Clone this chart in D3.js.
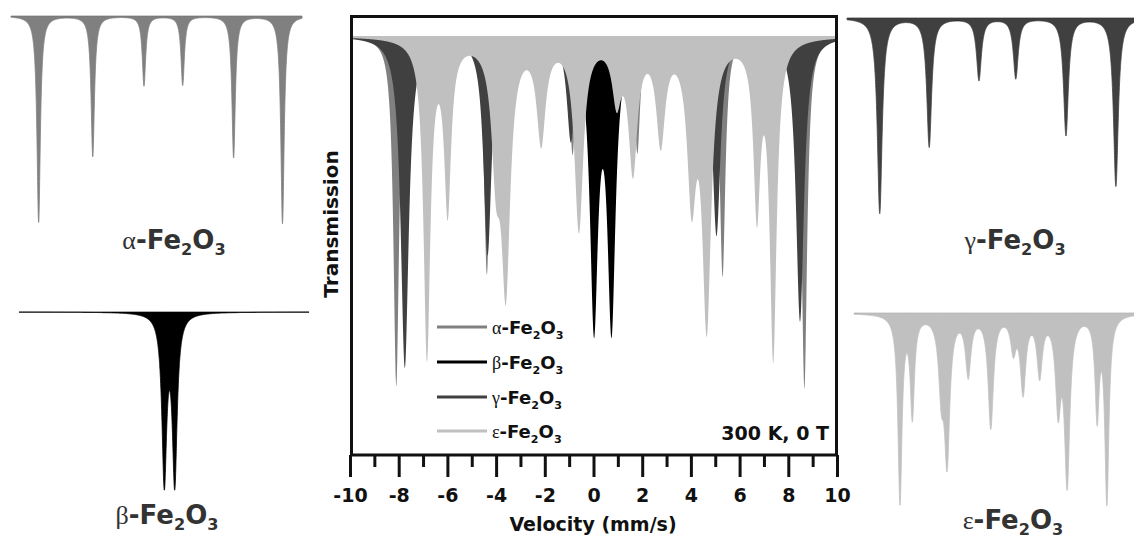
<!DOCTYPE html>
<html>
<head>
<meta charset="utf-8">
<script src="https://cdn.jsdelivr.net/npm/d3@7"></script>
<style>
  body { margin: 0; background: #fff; }
  text { font-family: "DejaVu Sans", sans-serif; font-weight: bold; }
  .greek { font-family: "Liberation Serif", serif; font-weight: normal; }
</style>
</head>
<body>
<svg id="fig" width="1134" height="539"></svg>
<script>
// phases and their fill colours
const phases = ['α', 'β', 'γ', 'ε'];
const colors = ['#808080', '#000000', '#404040', '#c0c0c0'];

// absorption lines: position (mm/s), depth (fraction of transmission), half width (mm/s)
const alphaPos   = [-8.10, -4.38, -0.86, 1.80, 5.30, 8.66];
const alphaDepth = [0.835, 0.568, 0.282, 0.279, 0.573, 0.840];
const alphaWidth = [0.14, 0.14, 0.14, 0.14, 0.14, 0.14];
const betaPos    = [0.02, 0.74];
const betaDepth  = [0.673, 0.673];
const betaWidth  = [0.20, 0.20];
const gammaPos   = [-7.75, -4.35, -0.93, 1.60, 5.05, 8.48];
const gammaDepth = [0.790, 0.520, 0.250, 0.243, 0.474, 0.680];
const gammaWidth = [0.20, 0.20, 0.20, 0.20, 0.20, 0.20];
const epsPos     = [-6.84, -5.99, -4.00, -3.60, -2.15, -0.60, 0.95, 1.62, 2.76, 4.03, 4.65, 6.71, 7.38];
const epsDepth   = [0.757, 0.402, 0.270, 0.566, 0.238, 0.453, 0.133, 0.305, 0.237, 0.353, 0.666, 0.400, 0.749];
const epsWidth   = [0.17, 0.17, 0.22, 0.22, 0.22, 0.22, 0.22, 0.22, 0.22, 0.22, 0.22, 0.17, 0.17];

const majorTicks = [-10, -8, -6, -4, -2, 0, 2, 4, 6, 8, 10];
const minorTicks = [-9, -7, -5, -3, -1, 1, 3, 5, 7, 9];

const linePos = [alphaPos, betaPos, gammaPos, epsPos];
const lineDepth = [alphaDepth, betaDepth, gammaDepth, epsDepth];
const lineWidth = [alphaWidth, betaWidth, gammaWidth, epsWidth];

const velocity = d3.range(-10, 10.0001, 0.005);

function spectrum(i) {
    return velocity.map(v => {
        let a = 0;
        linePos[i].forEach((p, k) => {
            a += lineDepth[i][k] / (1 + ((v - p) / lineWidth[i][k]) ** 2);
        });
        return { v: v, t: 1 - a };
    });
}
const spectra = phases.map((p, i) => spectrum(i));

const svg = d3.select('#fig');

function formula(sel, greek, size, sub) {
    const t = sel.append('text').attr('font-size', size);
    t.append('tspan').attr('class', 'greek').text(greek);
    t.append('tspan').text('-Fe');
    t.append('tspan').attr('font-size', size * 0.62).attr('dy', sub).text('2');
    t.append('tspan').attr('dy', -sub).text('O');
    t.append('tspan').attr('font-size', size * 0.62).attr('dy', sub).text('3');
    return t;
}

// ---- central overlay ----
const x = d3.scaleLinear().domain([-10, 10]).range([350, 837]);
const y = d3.scaleLinear().domain([0, 1.05]).range([455, 15]);

svg.append('clipPath').attr('id', 'clip')
    .append('rect').attr('x', 350).attr('y', 15).attr('width', 487).attr('height', 440);

const area = d3.area()
    .x(d => x(d.v))
    .y0(y(1))
    .y1(d => y(d.t));

const plot = svg.append('g').attr('clip-path', 'url(#clip)');
[0, 2, 1, 3].forEach(i => {
    plot.append('path')
        .attr('d', area(spectra[i]))
        .attr('fill', colors[i]);
});

svg.append('rect')
    .attr('x', 351.5).attr('y', 16.5)
    .attr('width', 485).attr('height', 438.5)
    .attr('fill', 'none').attr('stroke', '#111').attr('stroke-width', 3);

const xaxis = svg.append('g').attr('transform', 'translate(0,455)')
    .call(d3.axisBottom(x).tickValues(majorTicks).tickSize(22).tickPadding(12).tickFormat(d => String(d)));
const xminor = svg.append('g').attr('transform', 'translate(0,455)')
    .call(d3.axisBottom(x).tickValues(minorTicks).tickSize(12).tickFormat(''));
[xaxis, xminor].forEach(g => {
    g.select('.domain').remove();
    g.selectAll('line').attr('stroke', '#111').attr('stroke-width', 3);
    g.selectAll('text').attr('font-size', 19).attr('fill', '#111')
        .style('font-family', '"DejaVu Sans", sans-serif').style('font-weight', 'bold');
});

svg.append('text')
    .attr('x', 593).attr('y', 531)
    .attr('text-anchor', 'middle').attr('font-size', 19).attr('fill', '#111')
    .text('Velocity (mm/s)');

svg.append('text')
    .attr('transform', 'translate(338,224) rotate(-90)')
    .attr('text-anchor', 'middle').attr('font-size', 20).attr('fill', '#111')
    .text('Transmission');

svg.append('text')
    .attr('x', 829).attr('y', 440)
    .attr('text-anchor', 'end').attr('font-size', 19).attr('fill', '#111')
    .text('300 K, 0 T');

// legend
const legendY = [327, 362, 397, 431];
phases.forEach((p, i) => {
    svg.append('line')
        .attr('x1', 437).attr('x2', 487)
        .attr('y1', legendY[i]).attr('y2', legendY[i])
        .attr('stroke', colors[i]).attr('stroke-width', 3);
    formula(svg, p, 18, 5)
        .attr('x', 492).attr('y', legendY[i] + 7)
        .attr('fill', '#111');
});

// ---- single-phase panels ----
const panels = [
    { x0: 11,  x1: 302,  base: 16,  lx: 174,  ly: 249 },
    { x0: 19,  x1: 309,  base: 312, lx: 167,  ly: 524 },
    { x0: 847, x1: 1138, base: 18,  lx: 1015, ly: 249 },
    { x0: 854, x1: 1145, base: 313, lx: 1013, ly: 529 }
];

panels.forEach((cfg, i) => {
    const px = d3.scaleLinear().domain([-10, 10]).range([cfg.x0, cfg.x1]);
    const py = d3.scaleLinear().domain([1, 0]).range([cfg.base, cfg.base + 247]);
    const panelArea = d3.area()
        .x(d => px(d.v))
        .y0(py(1))
        .y1(d => py(d.t));
    svg.append('path')
        .attr('d', panelArea(spectra[i]))
        .attr('fill', colors[i])
        .attr('stroke', colors[i]).attr('stroke-width', 0.8);
    formula(svg, phases[i], 26, 6)
        .attr('x', cfg.lx).attr('y', cfg.ly)
        .attr('text-anchor', 'middle')
        .attr('fill', '#333');
});
</script>
</body>
</html>
